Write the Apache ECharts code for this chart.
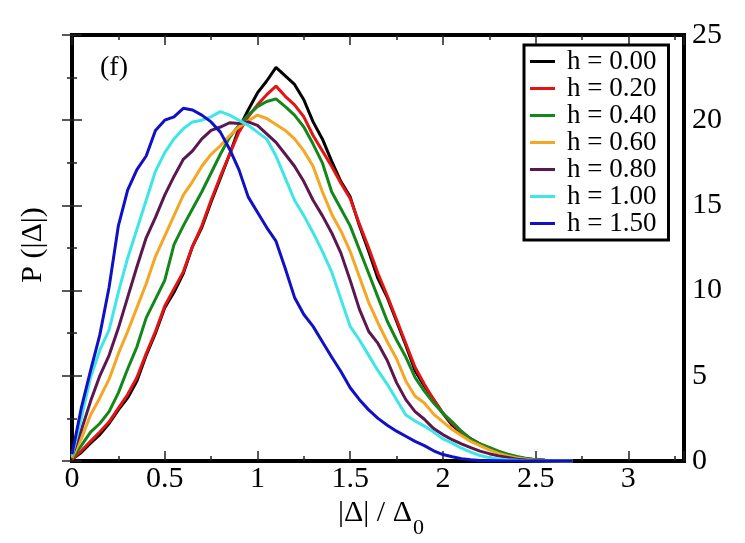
<!DOCTYPE html>
<html>
<head>
<meta charset="utf-8">
<script src="https://cdn.jsdelivr.net/npm/echarts@6/dist/echarts.min.js"></script>
<style>html,body{margin:0;padding:0;background:#fff;}#c{width:745px;height:543px;}</style>
</head>
<body>
<div id="c"></div>
<script>
const xs = [0,0.05,0.1,0.15,0.2,0.25,0.3,0.35,0.4,0.45,0.5,0.55,0.6,0.65,0.7,0.75,0.8,0.85,0.9,0.95,1.0,1.05,1.1,1.15,1.2,1.25,1.3,1.35,1.4,1.45,1.5,1.55,1.6,1.65,1.7,1.75,1.8,1.85,1.9,1.95,2.0,2.05,2.1,2.15,2.2,2.25,2.3,2.35,2.4,2.45,2.5,2.55,2.6,2.65,2.7];
const h000 = [0.1,0.5,1.05,1.55,2.2,3.0,3.7,4.7,6.2,7.5,9.0,9.9,11.0,12.6,13.7,15.2,16.6,18.0,19.5,20.6,21.6,22.3,23.1,22.6,22.1,21.2,19.9,18.9,17.6,16.4,15.5,13.8,12.3,10.7,9.6,8.2,6.8,5.3,4.4,3.6,2.8,2.1,1.65,1.3,1.0,0.7,0.5,0.32,0.2,0.12,0.07,0.04,0.02,0.01,0];
const h020 = [0.1,0.6,1.15,1.7,2.3,3.1,3.9,4.9,6.3,7.6,9.1,10.1,11.1,12.6,13.8,15.3,16.7,18.0,19.3,20.2,20.9,21.5,22.0,21.4,20.9,20.2,19.1,18.2,17.3,16.3,15.4,13.9,12.5,11.0,9.7,8.3,6.9,5.5,4.5,3.6,2.8,2.2,1.7,1.3,1.0,0.75,0.5,0.35,0.22,0.14,0.08,0.05,0.03,0.01,0];
const h040 = [0.15,0.9,1.7,2.2,2.9,4.0,5.4,6.7,8.4,9.5,10.6,12.7,13.8,14.8,15.8,16.9,18.0,19.0,19.7,20.3,20.8,21.1,21.25,20.8,20.3,19.6,18.6,17.5,15.8,14.8,13.8,12.4,11.0,9.6,8.2,7.1,6.1,4.9,4.1,3.4,2.8,2.3,1.75,1.3,1.0,0.8,0.58,0.4,0.26,0.15,0.08,0.04,0.02,0,0];
const h060 = [0.2,1.3,2.7,3.7,4.8,6.3,7.6,9.0,10.4,12.0,13.2,14.4,15.6,16.4,17.3,18.0,18.5,19.1,19.6,19.95,20.3,20.1,19.75,19.4,18.9,18.2,17.3,15.8,14.5,13.5,12.3,10.8,9.3,8.1,7.0,6.0,4.7,3.8,3.4,2.75,2.3,1.85,1.5,1.15,0.9,0.65,0.45,0.3,0.18,0.1,0.05,0.02,0,0,0];
const h080 = [0.3,1.8,3.5,5.0,6.2,7.8,9.6,11.4,13.1,14.3,15.6,16.7,17.7,18.2,18.9,19.4,19.6,19.85,19.8,19.9,19.7,19.2,18.7,18.0,17.3,16.4,15.3,14.4,13.4,12.2,10.6,8.9,7.6,6.9,5.9,4.6,3.6,2.9,2.45,1.9,1.55,1.25,1.0,0.78,0.58,0.43,0.3,0.2,0.1,0.06,0.03,0.01,0,0,0];
const h100 = [0.3,2.5,4.9,6.5,7.7,9.9,11.9,13.6,15.3,17.0,18.1,18.9,19.5,19.9,20.0,20.2,20.5,20.3,20.0,19.7,19.3,18.9,17.9,16.6,15.3,14.4,13.4,12.3,11.1,9.5,7.9,7.1,6.2,5.3,4.5,3.6,2.7,2.35,2.05,1.7,1.3,1.05,0.75,0.52,0.32,0.2,0.12,0.07,0.04,0.02,0,0,0,0,0];
const h150 = [0.4,3.1,5.3,7.4,10.2,13.8,15.9,17.1,17.9,19.4,20.0,20.2,20.7,20.6,20.3,19.9,19.3,18.3,17.1,15.5,14.6,13.7,12.9,11.3,9.6,8.6,7.9,7.0,6.1,5.25,4.3,3.6,3.0,2.5,2.1,1.75,1.45,1.15,0.9,0.6,0.38,0.25,0.13,0.07,0.03,0.02,0.01,0,0,0,0,0,0,0,0];
const seriesNames = ['h = 0.00','h = 0.20','h = 0.40','h = 0.60','h = 0.80','h = 1.00','h = 1.50'];
const seriesValues = [h000,h020,h040,h060,h080,h100,h150];
const colors = ['#000000','#e41414','#12881a','#f5a623','#5c1650','#3ee6e8','#1010c4'];
const xTickLabels = ['0','0.5','1','1.5','2','2.5','3'];
const yTickLabels = ['0','5','10','15','20','25'];

const FONT = "'Liberation Serif','Times New Roman',serif";
const chart = echarts.init(document.getElementById('c'), null, {renderer:'canvas'});
const tickStyle = {color:'#222', width:1.5};
function xAxisDef(pos, interval, len, showLabel){
  return {
    type:'value', position:pos, min:0, max:3.3, interval:interval,
    axisLine:{show:false}, splitLine:{show:false},
    axisTick:{show:true, inside:true, length:len, lineStyle:tickStyle},
    axisLabel:{show:showLabel, margin:3, fontFamily:FONT, fontSize:30, color:'#000',
      formatter:function(v){ const s = String(Math.round(v*100)/100); return xTickLabels.indexOf(s) >= 0 ? s : ''; }}
  };
}
function yAxisDef(pos, showLabel){
  return {
    type:'value', position:pos, min:0, max:25, interval:5,
    axisLine:{show:false}, splitLine:{show:false},
    axisTick:{show:true, inside:true, length:10, lineStyle:tickStyle},
    minorTick:{show:true, splitNumber:2, length:5, lineStyle:tickStyle},
    axisLabel:{show:showLabel, margin:8, fontFamily:FONT, fontSize:30, color:'#000',
      formatter:function(v){ const s = String(v); return yTickLabels.indexOf(s) >= 0 ? s : ''; }}
  };
}
const series = seriesNames.map(function(name, i){
  return {
    name:name, type:'line', xAxisIndex:0, yAxisIndex:0,
    symbol:'none', smooth:false, animation:false,
    lineStyle:{color:colors[i], width:3}, itemStyle:{color:colors[i]},
    data: xs.map(function(x, k){ return [x, seriesValues[i][k]]; }),
    z: 2 + i
  };
});
chart.setOption({
  animation:false,
  backgroundColor:'#fff',
  grid:{left:72, right:61, top:35, bottom:82, show:true, borderColor:'#000', borderWidth:4, backgroundColor:'transparent'},
  xAxis:[ xAxisDef('bottom',0.5,10,true), xAxisDef('bottom',0.25,5,false), xAxisDef('top',0.5,10,false), xAxisDef('top',0.25,5,false) ],
  yAxis:[ yAxisDef('right',true), yAxisDef('left',false) ],
  legend:{
    left:524, top:45, orient:'vertical', padding:[3,12,3,6],
    borderColor:'#000', borderWidth:3, backgroundColor:'#fff',
    icon:'rect', itemGap:0, itemWidth:25, itemHeight:3,
    textStyle:{fontFamily:FONT, fontSize:27, color:'#000', lineHeight:26, padding:[0,0,0,7]},
    data:seriesNames
  },
  graphic:[
    {type:'text', left:100, top:54, style:{text:'(f)', font:'28px '+FONT, fill:'#000'}},
    {type:'text', x:33, y:245, rotation:Math.PI/2, style:{text:'P (|Δ|)', font:'30px '+FONT, fill:'#000', textAlign:'center', textVerticalAlign:'middle'}},
    {type:'text', x:412, y:513, style:{text:'|Δ| / Δ', font:'30px '+FONT, fill:'#000', textAlign:'right', textVerticalAlign:'middle'}},
    {type:'text', x:413, y:528, style:{text:'0', font:'22px '+FONT, fill:'#000', textAlign:'left', textVerticalAlign:'middle'}}
  ],
  series:series
});
</script>
</body>
</html>
